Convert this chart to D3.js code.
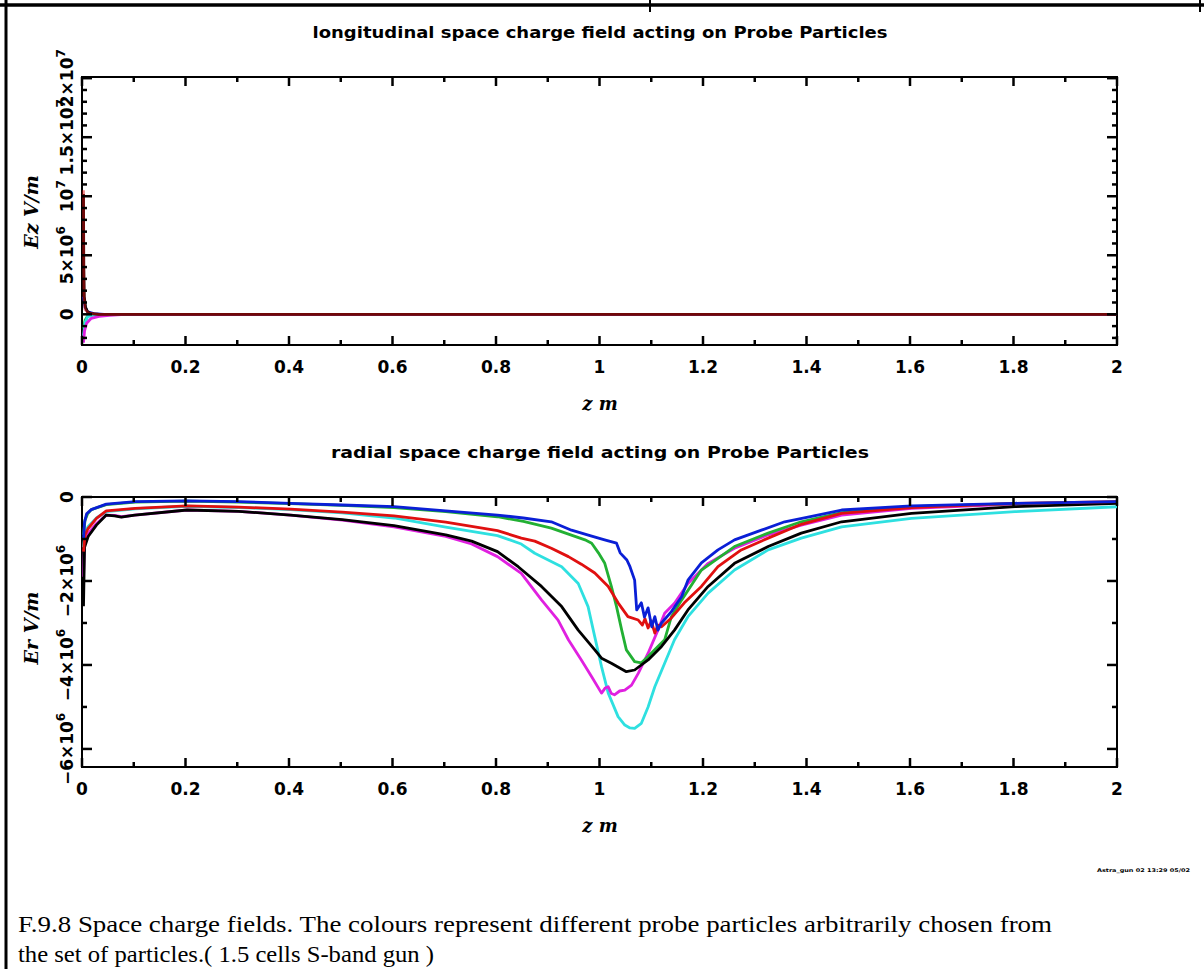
<!DOCTYPE html>
<html><head><meta charset="utf-8">
<script src="https://cdn.jsdelivr.net/npm/d3@7"></script>
<style>body{margin:0;background:#fff}svg{display:block}</style>
</head><body>
<svg id="c" width="1204" height="969"></svg>
<script>
// ---------- data (field values in units of 1e6 V/m) ----------
const xMajorTicks = [0,0.2,0.4,0.6,0.8,1,1.2,1.4,1.6,1.8,2];
const xMinorTicks = [0.1,0.3,0.5,0.7,0.9,1.1,1.3,1.5,1.7,1.9];
const xTickLabels = ["0","0.2","0.4","0.6","0.8","1","1.2","1.4","1.6","1.8","2"];

const ezMajorTicks = [0,5,10,15,20];
const ezMinorTicks = [-2,-1,1,2,3,4,6,7,8,9,11,12,13,14,16,17,18,19];
const ezTickLabels = [["0",""],["5×10","6"],["10","7"],["1.5×10","7"],["2×10","7"]];

const erMajorTicks = [0,-2,-4,-6];
const erMinorTicks = [-1,-3,-5];
const erTickLabels = [["0",""],["−2×10","6"],["−4×10","6"],["−6×10","6"]];

const seriesNames  = ["cyan","magenta","green","black","red","blue"];
const seriesColors = ["#2ee0e0","#e020e0","#22b033","#000000","#e01010","#0a1fd6"];

// longitudinal field Ez
const ezCyan    = [[0,-1.8],[0.003,-0.7],[0.008,-0.2],[0.02,-0.05],[0.05,0],[2,0]];
const ezMagenta = [[0,-2.4],[0.002,-1.4],[0.006,-0.76],[0.015,-0.34],[0.03,-0.18],[0.05,-0.08],[0.08,0],[2,0]];
const ezGreen   = [[0,-1.2],[0.003,-0.5],[0.008,-0.15],[0.02,-0.03],[0.04,0],[2,0]];
const ezBlack   = [[0,10.2],[0.0005,4],[0.0015,1.5],[0.004,0.6],[0.008,0.2],[0.015,0.05],[0.03,0],[2,0]];
const ezRed     = [[0,10.5],[0.0003,5],[0.001,1.5],[0.003,0.4],[0.01,0.1],[0.03,0],[2,0]];
const ezBlue    = [[0,1.5],[0.003,0.6],[0.008,0.2],[0.02,0.05],[0.04,0],[2,0]];

// radial field Er
const erCyan = [[0,-1.2],[0.003,-0.85],[0.009,-0.7],[0.025,-0.5],[0.044,-0.35],[0.1,-0.28],[0.2,-0.22],[0.3,-0.25],[0.4,-0.3],[0.5,-0.38],[0.6,-0.5],[0.7,-0.72],[0.8,-0.92],[0.846,-1.12],[0.872,-1.34],[0.924,-1.66],[0.956,-2.06],[0.975,-2.61],[0.988,-3.33],[1.001,-4.04],[1.014,-4.67],[1.033,-5.23],[1.046,-5.43],[1.056,-5.5],[1.065,-5.51],[1.078,-5.39],[1.091,-5.0],[1.104,-4.52],[1.123,-3.96],[1.142,-3.4],[1.168,-2.85],[1.207,-2.29],[1.258,-1.74],[1.323,-1.26],[1.387,-0.98],[1.465,-0.71],[1.6,-0.51],[1.8,-0.35],[2.0,-0.23]];
const erMagenta = [[0,-1.9],[0.002,-1.1],[0.009,-0.87],[0.025,-0.63],[0.044,-0.43],[0.06,-0.44],[0.073,-0.47],[0.099,-0.43],[0.2,-0.31],[0.3,-0.34],[0.4,-0.43],[0.5,-0.55],[0.6,-0.71],[0.7,-0.94],[0.75,-1.12],[0.8,-1.42],[0.846,-1.82],[0.885,-2.45],[0.917,-2.93],[0.937,-3.4],[0.962,-3.88],[0.982,-4.28],[1.001,-4.67],[1.008,-4.55],[1.014,-4.52],[1.02,-4.68],[1.026,-4.71],[1.036,-4.62],[1.046,-4.6],[1.059,-4.48],[1.072,-4.2],[1.091,-3.72],[1.11,-3.17],[1.123,-2.77],[1.142,-2.53],[1.168,-2.06],[1.207,-1.58],[1.258,-1.22],[1.323,-0.9],[1.387,-0.67],[1.465,-0.43],[1.6,-0.27],[1.8,-0.17],[2.0,-0.13]];
const erGreen = [[0,-0.9],[0.003,-0.55],[0.008,-0.4],[0.015,-0.3],[0.044,-0.18],[0.1,-0.12],[0.2,-0.1],[0.3,-0.12],[0.4,-0.16],[0.5,-0.2],[0.6,-0.25],[0.7,-0.35],[0.8,-0.47],[0.85,-0.58],[0.904,-0.74],[0.969,-1.02],[0.982,-1.1],[0.995,-1.33],[1.007,-1.57],[1.02,-2.13],[1.03,-2.61],[1.04,-3.17],[1.049,-3.64],[1.065,-3.92],[1.078,-3.95],[1.091,-3.8],[1.11,-3.56],[1.123,-3.4],[1.136,-2.85],[1.156,-2.45],[1.194,-1.74],[1.258,-1.18],[1.323,-0.86],[1.387,-0.59],[1.465,-0.37],[1.6,-0.23],[1.8,-0.16],[2.0,-0.12]];
const erBlack = [[0,-2.6],[0.002,-1.2],[0.009,-0.94],[0.025,-0.67],[0.044,-0.43],[0.06,-0.45],[0.073,-0.48],[0.099,-0.43],[0.2,-0.31],[0.3,-0.34],[0.4,-0.43],[0.5,-0.54],[0.6,-0.68],[0.7,-0.9],[0.75,-1.05],[0.8,-1.3],[0.84,-1.66],[0.885,-2.13],[0.924,-2.61],[0.956,-3.17],[0.988,-3.64],[1.001,-3.84],[1.02,-3.96],[1.049,-4.16],[1.065,-4.12],[1.091,-3.88],[1.117,-3.56],[1.142,-3.17],[1.168,-2.69],[1.207,-2.13],[1.258,-1.58],[1.323,-1.18],[1.387,-0.86],[1.465,-0.59],[1.6,-0.39],[1.8,-0.23],[2.0,-0.15]];
const erRed = [[0,-1.3],[0.003,-0.9],[0.009,-0.75],[0.025,-0.51],[0.044,-0.33],[0.1,-0.27],[0.2,-0.21],[0.3,-0.24],[0.4,-0.29],[0.5,-0.36],[0.6,-0.45],[0.7,-0.6],[0.8,-0.8],[0.846,-0.98],[0.872,-1.05],[0.904,-1.22],[0.937,-1.42],[0.962,-1.6],[0.988,-1.81],[1.014,-2.13],[1.033,-2.52],[1.052,-2.85],[1.072,-2.93],[1.08,-3.05],[1.085,-2.9],[1.091,-3.12],[1.097,-2.95],[1.104,-3.24],[1.11,-3.05],[1.117,-3.09],[1.136,-2.88],[1.161,-2.52],[1.194,-2.13],[1.226,-1.66],[1.271,-1.26],[1.323,-0.98],[1.387,-0.65],[1.465,-0.39],[1.6,-0.25],[1.8,-0.15],[2.0,-0.11]];
const erBlue = [[0,-1.0],[0.002,-0.6],[0.006,-0.4],[0.015,-0.3],[0.044,-0.17],[0.1,-0.11],[0.2,-0.09],[0.3,-0.11],[0.4,-0.15],[0.5,-0.19],[0.6,-0.23],[0.7,-0.33],[0.8,-0.43],[0.85,-0.5],[0.904,-0.59],[0.943,-0.79],[0.982,-0.93],[1.007,-1.02],[1.03,-1.1],[1.037,-1.33],[1.05,-1.5],[1.056,-1.66],[1.065,-1.98],[1.069,-2.69],[1.078,-2.52],[1.084,-2.86],[1.091,-2.64],[1.098,-3.09],[1.104,-2.85],[1.11,-3.17],[1.117,-3.0],[1.136,-2.73],[1.156,-2.37],[1.168,-1.98],[1.194,-1.57],[1.226,-1.26],[1.258,-1.02],[1.31,-0.79],[1.355,-0.59],[1.4,-0.48],[1.465,-0.31],[1.6,-0.21],[1.8,-0.15],[2.0,-0.11]];

// drawing order (index into seriesNames/seriesColors)
const ezOrder = [5,2,0,1,3,4];
const erOrder = [0,1,2,3,4,5];
const ezSeries = [ezCyan, ezMagenta, ezGreen, ezBlack, ezRed, ezBlue];
const erSeries = [erCyan, erMagenta, erGreen, erBlack, erRed, erBlue];

const titleTop = "longitudinal space charge field acting on Probe Particles";
const titleBottom = "radial space charge field acting on Probe Particles";
const captionLines = ["F.9.8 Space charge fields. The colours represent different probe particles arbitrarily chosen from",
                      "the set of particles.( 1.5 cells S-band gun )"];
const captionWidths = [1034, 416];

// ---------- drawing ----------
const svg = d3.select("#c");
const SANS = "'DejaVu Sans', sans-serif";
const SERIF = "'DejaVu Serif', serif";

svg.append("line").attr("x1",0).attr("x2",1204).attr("y1",5).attr("y2",5).attr("stroke","#000").attr("stroke-width",3.5);
svg.append("line").attr("x1",6).attr("x2",6).attr("y1",0).attr("y2",969).attr("stroke","#000").attr("stroke-width",3);
svg.append("line").attr("x1",650).attr("x2",650).attr("y1",0).attr("y2",12).attr("stroke","#000").attr("stroke-width",2);
svg.append("line").attr("x1",1200).attr("x2",1200).attr("y1",0).attr("y2",12).attr("stroke","#000").attr("stroke-width",2);

function panel(cfg){
  const x = d3.scaleLinear().domain([0,2]).range([82,1117]);
  const y = d3.scaleLinear().domain(cfg.ydom).range([cfg.bottom,cfg.top]);
  const g = svg.append("g");
  const id = "clip"+cfg.key;
  g.append("clipPath").attr("id",id).append("rect")
    .attr("x",82).attr("y",cfg.top).attr("width",1035).attr("height",cfg.bottom-cfg.top);
  g.append("rect").attr("x",82).attr("y",cfg.top).attr("width",1035).attr("height",cfg.bottom-cfg.top)
    .attr("fill","none").attr("stroke","#000").attr("stroke-width",2);
  const line = d3.line().x(d=>x(d[0])+1.5).y(d=>y(d[1]));
  const cg = g.append("g").attr("clip-path",`url(#${id})`);
  cfg.order.forEach(i=>{
    cg.append("path").datum(cfg.series[i]).attr("d",line).attr("fill","none")
      .attr("stroke",seriesColors[i]).attr("stroke-width",2.8)
      .attr("stroke-opacity", (cfg.key==="ez" && seriesNames[i]==="red") ? 0.5 : 1)
      .attr("stroke-linejoin","round");
  });
  const tk = (vals,len)=>{
    vals.forEach(v=>{
      g.append("line").attr("x1",x(v)).attr("x2",x(v)).attr("y1",cfg.bottom).attr("y2",cfg.bottom-len).attr("stroke","#000").attr("stroke-width",2.5);
      g.append("line").attr("x1",x(v)).attr("x2",x(v)).attr("y1",cfg.top).attr("y2",cfg.top+len).attr("stroke","#000").attr("stroke-width",2.5);
    });
  };
  tk(xMajorTicks,9); tk(xMinorTicks,5);
  const tky = (vals,len)=>{
    vals.forEach(v=>{
      g.append("line").attr("y1",y(v)).attr("y2",y(v)).attr("x1",82).attr("x2",82+len).attr("stroke","#000").attr("stroke-width",2.5);
      g.append("line").attr("y1",y(v)).attr("y2",y(v)).attr("x1",1117).attr("x2",1117-len).attr("stroke","#000").attr("stroke-width",2.5);
    });
  };
  tky(cfg.yMajor,10); tky(cfg.yMinor,5);
  xMajorTicks.forEach((v,i)=>{
    g.append("text").attr("x",x(v)).attr("y",cfg.bottom+28).attr("text-anchor","middle")
      .attr("font-family",SANS).attr("font-weight","bold").attr("font-size",17).text(xTickLabels[i]);
  });
  cfg.yMajor.forEach((v,i)=>{
    const lab = cfg.yLabels[i];
    const t = g.append("text").attr("transform",`translate(73,${y(v)}) rotate(-90)`).attr("text-anchor","middle")
      .attr("font-family",SANS).attr("font-weight","bold").attr("font-size",17);
    t.append("tspan").text(lab[0]);
    if(lab[1]) t.append("tspan").attr("dy",-8).attr("font-size",12).text(lab[1]);
  });
  g.append("text").attr("x",600).attr("y",cfg.bottom+65).attr("text-anchor","middle")
    .attr("font-family",SERIF).attr("font-weight","bold").attr("font-style","italic").attr("font-size",18)
    .text("z  m");
  g.append("text").attr("transform",`translate(38,${cfg.ylabY}) rotate(-90)`).attr("text-anchor","middle")
    .attr("font-family",SERIF).attr("font-weight","bold").attr("font-style","italic").attr("font-size",19)
    .text(cfg.ylab);
  g.append("text").attr("x",600).attr("y",cfg.titleY).attr("text-anchor","middle")
    .attr("font-family",SANS).attr("font-weight","bold").attr("font-size",15)
    .attr("textLength",cfg.titleLen).attr("lengthAdjust","spacingAndGlyphs").text(cfg.title);
}

panel({key:"ez", top:77, bottom:345, ydom:[-2.6,20.1], series:ezSeries, order:ezOrder, yMajor:ezMajorTicks, yMinor:ezMinorTicks,
       yLabels:ezTickLabels, ylab:"Ez  V/m", ylabY:212, title:titleTop, titleY:38, titleLen:575});
panel({key:"er", top:497, bottom:767, ydom:[-6.43,0], series:erSeries, order:erOrder, yMajor:erMajorTicks, yMinor:erMinorTicks,
       yLabels:erTickLabels, ylab:"Er  V/m", ylabY:628, title:titleBottom, titleY:458, titleLen:538});

svg.append("text").attr("x",1097).attr("y",872).attr("font-family",SANS).attr("font-weight","bold")
  .attr("font-size",5).attr("textLength",93).attr("lengthAdjust","spacingAndGlyphs").text("Astra_gun 02 13:29 05/02");

captionLines.forEach((l,i)=>{
  svg.append("text").attr("x",18).attr("y",932+i*30).attr("font-family","'Liberation Serif', 'Times New Roman', serif")
    .attr("font-size",23).attr("textLength",captionWidths[i]).attr("lengthAdjust","spacingAndGlyphs").text(l);
});
</script>
</body></html>
